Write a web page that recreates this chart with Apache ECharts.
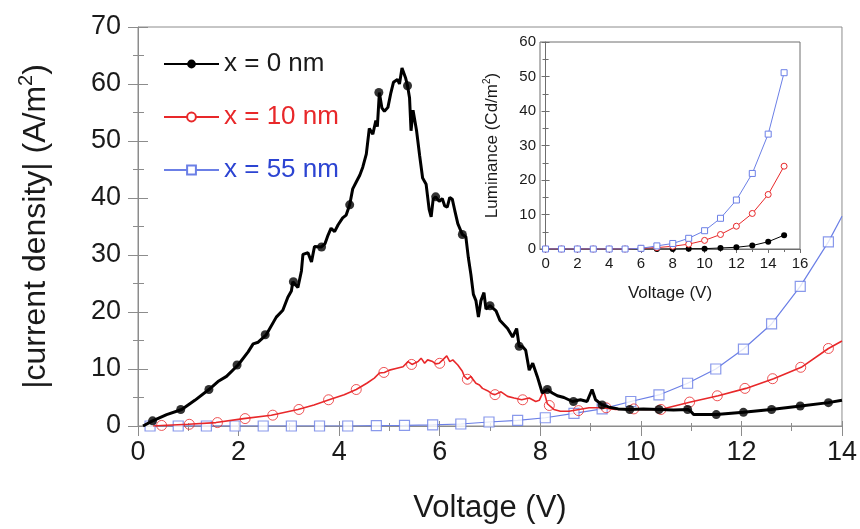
<!DOCTYPE html>
<html><head><meta charset="utf-8">
<script src="https://cdn.jsdelivr.net/npm/echarts@6/dist/echarts.min.js"></script>
<style>html,body{margin:0;padding:0;background:#fff}#c{width:860px;height:529px}</style>
</head><body><div id="c"></div>
<script>
// ---- main chart: current density vs voltage ----
const blackX = [0.1,0.29,0.57,0.87,1.13,1.41,1.59,1.76,1.99,2.19,2.29,2.39,2.55,2.75,2.88,2.98,3.05,3.08,3.18,3.25,3.28,3.38,3.45,3.51,3.64,3.72,3.78,3.84,3.91,3.98,4.07,4.14,4.21,4.27,4.34,4.41,4.47,4.54,4.6,4.67,4.73,4.76,4.8,4.85,4.9,4.97,5.03,5.08,5.16,5.2,5.25,5.32,5.36,5.4,5.43,5.47,5.54,5.6,5.66,5.73,5.79,5.83,5.87,5.92,5.99,6.05,6.1,6.15,6.2,6.25,6.3,6.36,6.45,6.52,6.57,6.62,6.67,6.72,6.77,6.82,6.88,6.92,7.0,7.12,7.2,7.35,7.45,7.53,7.58,7.65,7.71,7.78,7.85,7.94,8.04,8.14,8.24,8.34,8.47,8.64,8.8,8.93,9.03,9.1,9.23,9.37,9.55,9.76,10.05,10.36,10.65,10.94,11.0,11.05,11.5,12.04,12.59,13.18,13.73,14.0];
const blackY = [0,0.9,2.0,2.9,4.5,6.4,7.8,8.7,10.7,13.0,14.4,14.7,16.0,19.1,20.3,22.6,23.7,25.3,24.3,27.2,30.1,30.4,28.8,31.5,31.4,32.0,33.5,34.7,34.1,35.3,36.5,37.0,38.8,41.6,42.8,44.0,45.4,47.7,52.2,51.2,53.6,52.5,58.5,55.8,55.2,55.9,58.5,60.3,60.8,60.0,62.8,61.1,59.7,57.6,51.8,55.4,51.8,47.5,43.5,42.4,38.0,36.7,39.8,40.2,39.4,39.9,38.6,38.4,40.1,39.8,37.8,35.5,33.6,33.2,29.5,26.6,23.1,22.0,19.1,22.0,23.4,20.5,21.1,20.2,18.5,17.1,15.6,17.1,14.0,13.9,13.3,9.8,11.0,8.7,5.8,6.4,5.8,5.3,5.0,4.3,4.6,4.3,6.4,4.6,3.7,3.3,3.0,2.9,3.0,2.9,2.8,2.9,2.5,2.0,2.0,2.4,2.9,3.5,4.1,4.5];
const blackMarkX = [0.29,0.85,1.41,1.97,2.53,3.09,3.65,4.21,4.79,5.36,5.92,6.45,7.0,7.58,8.14,8.66,9.23,9.78,10.36,10.93,11.5,12.04,12.6,13.17,13.73];
const blackMarkY = [0.9,2.9,6.4,10.7,16.0,25.3,31.4,38.8,58.5,59.7,40.2,33.6,21.1,14.0,6.4,4.3,3.7,2.9,2.9,2.9,2.0,2.4,2.9,3.5,4.1];

const redX = [0.3,0.47,1.0,1.55,2.1,2.65,3.18,3.5,3.8,4.1,4.34,4.55,4.7,4.8,4.9,5.0,5.13,5.27,5.37,5.45,5.57,5.63,5.7,5.76,5.86,5.92,5.99,6.06,6.14,6.2,6.26,6.36,6.45,6.49,6.55,6.62,6.72,6.79,6.85,6.95,7.05,7.1,7.22,7.35,7.48,7.63,7.78,7.91,7.98,8.07,8.14,8.27,8.4,8.57,8.77,8.97,9.23,9.5,9.76,10.09,10.39,10.99,11.54,12.09,12.64,13.19,13.73,14.0];
const redY = [0,0.1,0.3,0.6,1.3,1.9,2.9,3.7,4.6,5.5,6.4,7.5,8.4,9.3,9.4,9.8,10.1,10.4,11.3,10.8,11.3,11.9,11.0,11.6,11.3,10.9,11.0,11.6,12.3,11.3,11.6,10.7,9.6,8.7,8.2,8.7,7.5,7.2,6.6,6.2,5.6,5.5,6.0,5.2,4.9,4.6,4.9,4.3,4.5,6.2,3.9,2.9,2.6,2.6,2.9,3.2,3.2,2.9,3.0,2.9,2.9,4.2,5.3,6.6,8.3,10.3,13.6,14.9];
const redMarkX = [0.47,1.02,1.58,2.13,2.68,3.2,3.79,4.34,4.89,5.44,6.0,6.55,7.1,7.65,8.18,8.76,9.31,9.86,10.4,10.97,11.52,12.07,12.62,13.18,13.73];
const redMarkY = [0.1,0.3,0.6,1.3,1.9,2.9,4.6,6.4,9.4,10.8,11.0,8.2,5.5,4.6,3.6,2.7,3.2,3.0,2.9,4.2,5.3,6.6,8.3,10.3,13.6];

const blueX = [0.24,0.8,1.36,1.93,2.49,3.05,3.61,4.17,4.74,5.3,5.86,6.42,6.98,7.55,8.1,8.67,9.23,9.8,10.36,10.93,11.49,12.04,12.6,13.17,13.73,14.0];
const blueY = [0,0,0,0,0,0,0,0,0.05,0.1,0.2,0.35,0.7,1.0,1.45,2.2,3.0,4.3,5.45,7.5,10.0,13.5,17.9,24.5,32.3,36.8];
const blueMarkX = [0.24,0.8,1.36,1.93,2.49,3.05,3.61,4.17,4.74,5.3,5.86,6.42,6.98,7.55,8.1,8.67,9.23,9.8,10.36,10.93,11.49,12.04,12.6,13.17,13.73];
const blueMarkY = [0,0,0,0,0,0,0,0,0.05,0.1,0.2,0.35,0.7,1.0,1.45,2.2,3.0,4.3,5.45,7.5,10.0,13.5,17.9,24.5,32.3];

const seriesNames = ['x = 0 nm','x = 10 nm','x = 55 nm'];

// ---- inset: luminance vs voltage ----
const insetX = [0,1,2,3,4,5,6,7,8,9,10,11,12,13,14,15];
const lumBlack = [0,0,0,0,0,0,0,0,0,0.1,0.1,0.3,0.5,1.0,2.1,4.0];
const lumRed = [0,0,0,0,0,0,0.2,0.4,0.8,1.4,2.5,4.2,6.6,10.3,15.8,24.0];
const lumBlue = [0,0,0,0,0,0,0.2,0.9,1.6,3.1,5.3,8.9,14.2,21.9,33.3,51.1];
const insetXTicks = [0,2,4,6,8,10,12,14,16];
const insetXMinor = [1,3,5,7,9,11,13,15];

const zip = (xs, ys) => xs.map((x, i) => [x, ys[i]]);
const FONT = '"Liberation Sans", Arial, sans-serif';
const AX = '#8c8c8c';
const IAX = '#6e6e6e';
const BLACK = '#000';
const RED = '#e8282a';
const BLUE = '#6b7fe6';
const BLUE_TXT = '#2c44d2';
const TXT = '#1a1a1a';

const chart = echarts.init(document.getElementById('c'));
const tickStyle = { color: AX, width: 1 };

chart.setOption({
  animation: false,
  textStyle: { fontFamily: FONT },
  grid: [
    { left: 138, right: 17, top: 27, bottom: 99, show: true, borderColor: AX, borderWidth: 1 },
    { left: 540, right: 60, top: 42, bottom: 280, show: true, borderColor: IAX, borderWidth: 1, backgroundColor: '#fff' }
  ],
  legend: {
    orient: 'vertical', left: 158, top: 46, itemWidth: 55, itemHeight: 11, itemGap: 27,
    textStyle: { fontSize: 26, fontFamily: FONT },
    data: [
      { name: seriesNames[0], textStyle: { color: TXT } },
      { name: seriesNames[1], textStyle: { color: RED } },
      { name: seriesNames[2], textStyle: { color: BLUE_TXT } }
    ]
  },
  xAxis: [
    { gridIndex: 0, type: 'value', min: 0, max: 14, interval: 2,
      name: 'Voltage (V)', nameLocation: 'middle', nameGap: 67,
      nameTextStyle: { fontSize: 31, color: TXT, fontFamily: FONT },
      axisLine: { lineStyle: { color: AX } },
      axisTick: { length: 10, lineStyle: tickStyle },
      minorTick: { show: true, splitNumber: 2, length: 5, lineStyle: tickStyle },
      axisLabel: { fontSize: 27, color: TXT, margin: 13, fontFamily: FONT },
      splitLine: { show: false } },
    { gridIndex: 0, type: 'value', min: 0, max: 14, interval: 2, position: 'bottom',
      axisLine: { show: false },
      axisTick: { inside: true, length: 5, lineStyle: tickStyle },
      minorTick: { show: true, splitNumber: 2, length: 3, lineStyle: tickStyle },
      axisLabel: { show: false }, splitLine: { show: false } },
    { gridIndex: 1, type: 'value', min: -0.35, max: 16,
      name: 'Voltage (V)', nameLocation: 'middle', nameGap: 36,
      nameTextStyle: { fontSize: 17, color: TXT, fontFamily: FONT },
      axisLine: { lineStyle: { color: IAX } },
      axisTick: { length: 4, customValues: insetXTicks, lineStyle: { color: IAX } },
      axisLabel: { fontSize: 15, color: TXT, margin: 7, customValues: insetXTicks, fontFamily: FONT },
      splitLine: { show: false } },
    { gridIndex: 1, type: 'value', min: -0.35, max: 16, position: 'bottom',
      axisLine: { show: false },
      axisTick: { length: 3, customValues: insetXMinor, lineStyle: { color: IAX } },
      axisLabel: { show: false }, splitLine: { show: false } }
  ],
  yAxis: [
    { gridIndex: 0, type: 'value', min: 0, max: 70, interval: 10,
      name: '{a||current density| (A/m}{s|2}{a|)}', nameLocation: 'middle', nameGap: 82, nameRotate: 90,
      nameTextStyle: { color: TXT, fontFamily: FONT, fontSize: 32,
        rich: { a: { fontSize: 32, color: TXT, fontFamily: FONT }, s: { fontSize: 20, color: TXT, fontFamily: FONT, padding: [0, 0, 20, 0] } } },
      axisLine: { lineStyle: { color: AX } },
      axisTick: { length: 10, lineStyle: tickStyle },
      minorTick: { show: true, splitNumber: 2, length: 5, lineStyle: tickStyle },
      axisLabel: { fontSize: 27, color: TXT, margin: 17, fontFamily: FONT },
      splitLine: { show: false } },
    { gridIndex: 0, type: 'value', min: 0, max: 70, interval: 10, position: 'left',
      axisLine: { show: false },
      axisTick: { inside: true, length: 10, lineStyle: tickStyle },
      minorTick: { show: true, splitNumber: 2, length: 6, lineStyle: tickStyle },
      axisLabel: { show: false }, splitLine: { show: false } },
    { gridIndex: 1, type: 'value', min: 0, max: 60, interval: 10,
      name: '{a|Luminance (Cd/m}{s|2}{a|)}', nameLocation: 'middle', nameGap: 38, nameRotate: 90,
      nameTextStyle: { color: TXT, fontFamily: FONT, fontSize: 17,
        rich: { a: { fontSize: 17, color: TXT, fontFamily: FONT }, s: { fontSize: 10, color: TXT, fontFamily: FONT, padding: [0, 0, 10, 0] } } },
      axisLine: { lineStyle: { color: IAX } },
      axisTick: { length: 4, lineStyle: { color: IAX } },
      minorTick: { show: true, splitNumber: 2, length: 3, lineStyle: { color: IAX } },
      axisLabel: { fontSize: 15, color: TXT, margin: 4, fontFamily: FONT },
      splitLine: { show: false } },
    { gridIndex: 1, type: 'value', min: 0, max: 60, interval: 10, position: 'left',
      axisLine: { show: false },
      axisTick: { inside: true, length: 4, lineStyle: { color: IAX } },
      minorTick: { show: true, splitNumber: 2, length: 3, lineStyle: { color: IAX } },
      axisLabel: { show: false }, splitLine: { show: false } }
  ],
  series: [
    { name: seriesNames[2], type: 'line', xAxisIndex: 0, yAxisIndex: 0, data: zip(blueX, blueY),
      showSymbol: false, symbol: 'emptyRect', symbolSize: 10, z: 2,
      lineStyle: { color: BLUE, width: 1.2 }, itemStyle: { color: BLUE } },
    { type: 'scatter', xAxisIndex: 0, yAxisIndex: 0, data: zip(blueMarkX, blueMarkY),
      symbol: 'rect', symbolSize: 10, z: 3, itemStyle: { color: '#fff', borderColor: BLUE, borderWidth: 1.2 } },
    { name: seriesNames[1], type: 'line', xAxisIndex: 0, yAxisIndex: 0, data: zip(redX, redY),
      showSymbol: false, symbol: 'emptyCircle', symbolSize: 10, z: 4,
      lineStyle: { color: RED, width: 1.6 }, itemStyle: { color: RED } },
    { type: 'scatter', xAxisIndex: 0, yAxisIndex: 0, data: zip(redMarkX, redMarkY),
      symbol: 'circle', symbolSize: 10, z: 5, itemStyle: { color: 'rgba(255,255,255,0)', borderColor: RED, borderWidth: 1 } },
    { name: seriesNames[0], type: 'line', xAxisIndex: 0, yAxisIndex: 0, data: zip(blackX, blackY),
      showSymbol: false, symbol: 'circle', symbolSize: 9, z: 6,
      lineStyle: { color: BLACK, width: 3 }, itemStyle: { color: BLACK } },
    { type: 'scatter', xAxisIndex: 0, yAxisIndex: 0, data: zip(blackMarkX, blackMarkY),
      symbol: 'circle', symbolSize: 9, z: 7, itemStyle: { color: BLACK } },

    { name: 'inset black', type: 'line', xAxisIndex: 2, yAxisIndex: 2, data: zip(insetX, lumBlack),
      symbol: 'circle', symbolSize: 6, lineStyle: { color: BLACK, width: 1 }, itemStyle: { color: BLACK }, z: 3 },
    { name: 'inset red', type: 'line', xAxisIndex: 2, yAxisIndex: 2, data: zip(insetX, lumRed),
      symbol: 'circle', symbolSize: 6, lineStyle: { color: RED, width: 1 },
      itemStyle: { color: '#fff', borderColor: RED, borderWidth: 1 }, z: 4 },
    { name: 'inset blue', type: 'line', xAxisIndex: 2, yAxisIndex: 2, data: zip(insetX, lumBlue),
      symbol: 'rect', symbolSize: 6, lineStyle: { color: BLUE, width: 1 },
      itemStyle: { color: '#fff', borderColor: BLUE, borderWidth: 1 }, z: 5 }
  ]
});
</script></body></html>
